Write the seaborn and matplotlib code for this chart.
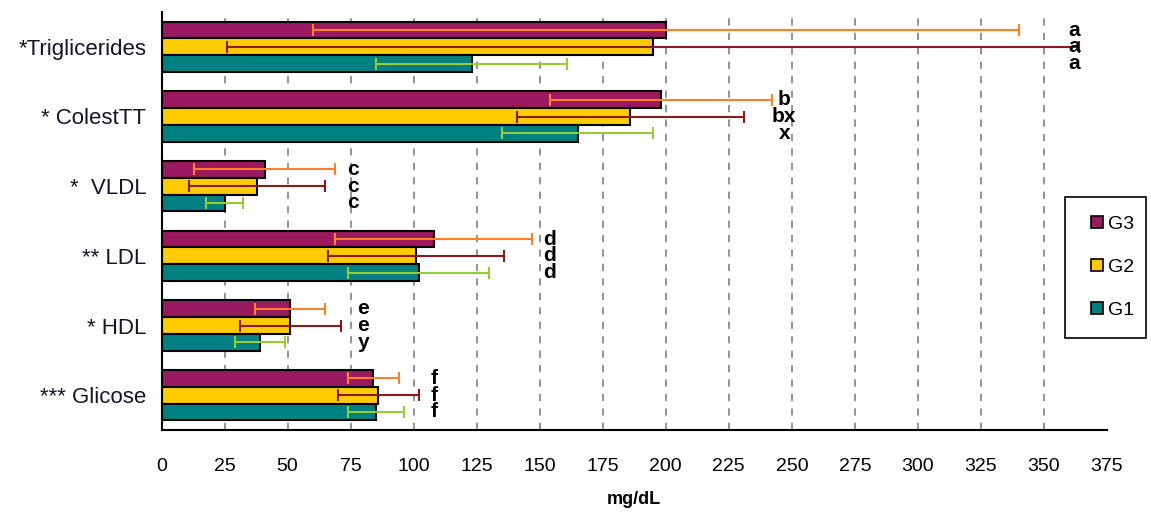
import matplotlib
matplotlib.use("Agg")
import matplotlib.pyplot as plt
import numpy as np
import pandas as pd
import seaborn as sns
from matplotlib.lines import Line2D
from matplotlib.patches import Rectangle

# ---- data -------------------------------------------------------------
categories = ["Triglicerides", "ColestTT", "VLDL", "LDL", "HDL", "Glicose"]
category_labels = ["*Triglicerides", "* ColestTT", "*  VLDL", "** LDL", "* HDL", "*** Glicose"]
groups = ["G3", "G2", "G1"]

g3_mean = [200, 198, 41, 108, 51, 84]
g2_mean = [195, 186, 38, 101, 51, 86]
g1_mean = [123, 165, 25, 102, 39, 85]

g3_sd = [140, 44, 28, 39, 14, 10]
g2_sd = [169, 45, 27, 35, 20, 16]
g1_sd = [38, 30, 7.5, 28, 10, 11]

g3_letters = ["a", "b", "c", "d", "e", "f"]
g2_letters = ["a", "bx", "c", "d", "e", "f"]
g1_letters = ["a", "x", "c", "d", "y", "f"]
letter_x = [362, 247, 76, 154, 80, 108]

x_ticks = list(range(0, 376, 25))

# ---- styling ----------------------------------------------------------
bar_colors = {"G3": "#991A5E", "G2": "#FFCC00", "G1": "#008080"}
err_colors = {"G3": "#FF7F2A", "G2": "#8B1A1A", "G1": "#99CC33"}

sns.set_style("white")
plt.rcParams["font.family"] = ["Liberation Sans", "DejaVu Sans"]
for key in ["text.color", "axes.labelcolor", "xtick.color", "ytick.color"]:
    plt.rcParams[key] = "black"

means = {"G3": g3_mean, "G2": g2_mean, "G1": g1_mean}
sds = {"G3": g3_sd, "G2": g2_sd, "G1": g1_sd}
letters = {"G3": g3_letters, "G2": g2_letters, "G1": g1_letters}

rows = []
for g in groups:
    for c, v in zip(categories, means[g]):
        rows.append({"category": c, "group": g, "value": v})
df = pd.DataFrame(rows)

W, H = 1151, 514
fig = plt.figure(figsize=(W / 100, H / 100), dpi=100)
ax = fig.add_axes([161.5 / W, 84 / H, (1107 - 161.5) / W, 418 / H])

sns.barplot(data=df, y="category", x="value", hue="group",
            order=categories, hue_order=groups, palette=bar_colors,
            orient="h", width=0.72, saturation=1, errorbar=None,
            edgecolor="black", linewidth=1.5, legend=False, ax=ax)

# error bars and significance letters on each bar
for container, g in zip(ax.containers, groups):
    xs = [b.get_width() for b in container]
    ys = [b.get_y() + b.get_height() / 2 for b in container]
    ax.errorbar(xs, ys, xerr=sds[g], fmt="none", ecolor=err_colors[g],
                elinewidth=1.5, capsize=4.5, capthick=1.5, zorder=5)
    for xl, y, t in zip(letter_x, ys, letters[g]):
        ax.text(xl, y, t, ha="center", va="center", fontsize=15,
                fontweight="bold", color="black", zorder=6)

# axes
ax.set_xlim(0, 375)
ax.set_ylim(5.5, -0.5)
ax.set_xticks(x_ticks)
ax.set_xticklabels([str(t) for t in x_ticks], fontsize=14, color="black")
ax.set_yticks(range(len(categories)))
ax.set_yticklabels(category_labels, fontsize=16, color="#141428")
ax.set_yticks(np.arange(-0.5, len(categories), 1.0), minor=True)
ax.tick_params(axis="y", which="major", length=0, pad=11)
ax.tick_params(axis="y", which="minor", length=6, width=1.5, color="black", direction="out")
ax.tick_params(axis="x", which="major", length=6, width=1.5, color="black",
               direction="out", pad=14)
ax.set_ylabel("")
ax.set_xlabel("mg/dL", fontsize=13, fontweight="bold", labelpad=12, color="black")

for side in ["top", "right"]:
    ax.spines[side].set_visible(False)
for side in ["left", "bottom"]:
    ax.spines[side].set_color("black")
    ax.spines[side].set_linewidth(1.5)

ax.set_axisbelow(True)
ax.xaxis.grid(True, linestyle=(0, (4, 4)), color="#8a8a8a", linewidth=1.3)
ax.yaxis.grid(False)
gl = ax.get_xgridlines()
gl[0].set_visible(False)
gl[-1].set_visible(False)

# legend: small square keys inside a plain black box
handles = [Line2D([], [], linestyle="none", marker="s", markersize=8,
                  markerfacecolor=bar_colors[g], markeredgecolor="black",
                  markeredgewidth=1.2, label=g) for g in groups]
leg = fig.legend(handles=handles, loc="center left",
                 bbox_to_anchor=(1091 / W, 1 - 267 / H),
                 fontsize=14, frameon=False,
                 handlelength=0.6, handletextpad=0.25,
                 labelspacing=1.3, borderpad=0, borderaxespad=0)
fig.add_artist(Rectangle((1065 / W, 1 - 338 / H), 81 / W, 141 / H,
                         transform=fig.transFigure, fill=False,
                         edgecolor="black", linewidth=1.2))

fig.savefig("out.png", dpi=100)
